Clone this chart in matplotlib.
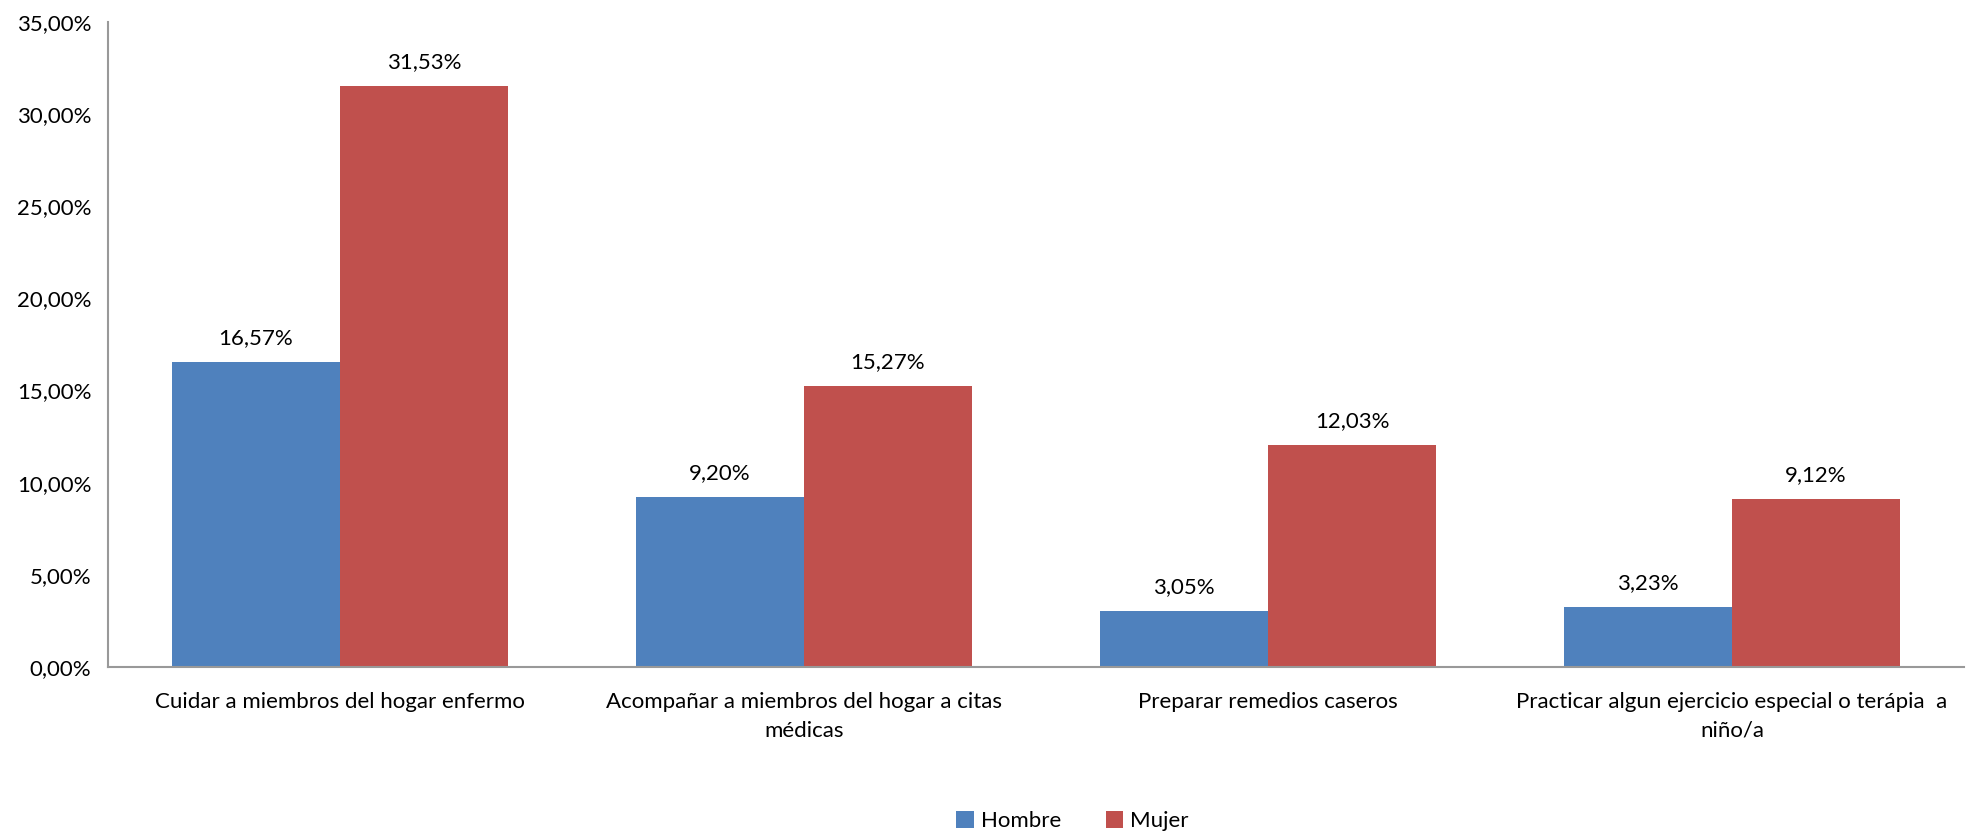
import matplotlib
matplotlib.use("Agg")
import matplotlib.pyplot as plt
import numpy as np
from matplotlib.ticker import FuncFormatter

categories = ["Cuidar a miembros del hogar enfermo",
              "Acompañar a miembros del hogar a citas\nmédicas",
              "Preparar remedios caseros",
              "Practicar algun ejercicio especial o terápia  a\nniño/a"]
hombre = [16.57, 9.20, 3.05, 3.23]
mujer = [31.53, 15.27, 12.03, 9.12]
series_names = ["Hombre", "Mujer"]
colors = ["#4F81BD", "#C0504D"]

plt.rcParams['font.family'] = ['Lato', 'DejaVu Sans']
FS = 16

fig = plt.figure(figsize=(19.75, 8.35), dpi=100)
ax = fig.add_axes([108/1975, 1-667/835, (1964-108)/1975, (667-22)/835])

x = np.arange(len(categories))
w = 0.362
b1 = ax.bar(x - w/2, hombre, w, color=colors[0], label=series_names[0])
b2 = ax.bar(x + w/2, mujer, w, color=colors[1], label=series_names[1])

def fmt(v):
    return f"{v:.2f}%".replace(".", ",")

for bars, vals in ((b1, hombre), (b2, mujer)):
    for r, v in zip(bars, vals):
        ax.annotate(fmt(v), (r.get_x() + r.get_width()/2, v), xytext=(0, 10),
                    textcoords="offset points", ha="center", va="bottom", fontsize=FS)

ax.set_xlim(-0.5, 3.5)
ax.set_ylim(0, 35)
ax.set_yticks(np.arange(0, 36, 5))
ax.yaxis.set_major_formatter(FuncFormatter(lambda v, p: fmt(v)))
ax.set_xticks(x)
ax.set_xticklabels(categories, fontsize=FS, linespacing=1.55)
ax.tick_params(axis='y', length=0, labelsize=FS, pad=12)
ax.tick_params(axis='x', length=0, pad=18)
for s in ("top", "right"):
    ax.spines[s].set_visible(False)
for s in ("left", "bottom"):
    ax.spines[s].set_color("#999999")
    ax.spines[s].set_linewidth(1.5)

fig.legend(handles=[b1, b2], labels=series_names, loc="center", bbox_to_anchor=(0.543, 1-821/835),
           ncol=2, frameon=False, fontsize=FS, handlelength=0.8, handleheight=0.8,
           columnspacing=2.0, handletextpad=0.3)

fig.savefig("out.png", dpi=100, facecolor="white")
